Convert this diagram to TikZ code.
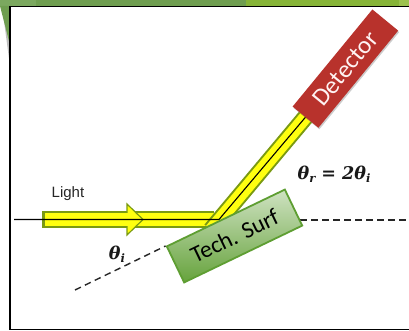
\documentclass[tikz,border=0pt]{standalone}
\usepackage{fontspec}
\setmainfont{Carlito}
\newfontfamily\arialf{Liberation Sans}
\newfontfamily\thetaf{DejaVu Serif}
\usetikzlibrary{shadows,backgrounds}
\definecolor{barA}{HTML}{7BA85F}
\definecolor{barB}{HTML}{6F9E50}
\definecolor{barC}{HTML}{86B437}
\definecolor{barD}{HTML}{9CC24E}
\definecolor{beamEdge}{HTML}{7A9A12}
\definecolor{beamFill}{HTML}{FFFF10}
\definecolor{techEdge}{HTML}{5E9E32}
\definecolor{detRed}{HTML}{B8322C}
\newcommand{\lowsub}[1]{\raisebox{-3pt}{\fontsize{11.5}{11.5}\selectfont #1}}
\tikzset{
  x=1pt,y=-1pt,
  frameline/.style={draw=black,line width=1.6pt},
  beamouter/.style={draw=beamEdge,line width=17pt},
  beaminner/.style={draw=beamFill,line width=13pt},
  ray/.style={draw=black,line width=1.1pt,line join=round},
  dashline/.style={draw=black!85,line width=1.4pt,dash pattern=on 6.5pt off 4.5pt},
  detbox/.style={fill=detRed,minimum width=125.7pt,minimum height=33.4pt,inner sep=0pt,rotate=50.6,
    drop shadow={shadow xshift=1pt,shadow yshift=-1.5pt,opacity=.2,fill=black},
    text=white!95!red,font=\fontsize{25}{25}\selectfont},
  techbox/.style={draw=techEdge,line width=1.8pt,top color=techEdge!30!white,bottom color=techEdge!95!white,
    minimum width=131pt,minimum height=40pt,inner sep=0pt,rotate=25.7,
    text=black,font=\fontsize{23.5}{23.5}\selectfont},
  mathlabel/.style={inner sep=0pt,text=black!90,font=\thetaf\bfseries\itshape\fontsize{17.5}{17.5}\selectfont},
  textlabel/.style={inner sep=0pt,text=black!85,font=\arialf\fontsize{15}{15}\selectfont},
}
\begin{document}
\begin{tikzpicture}
\clip (0,0) rectangle (409,331);
% coordinates
\coordinate (lineStart) at (14,219.5);
\coordinate (beamStart) at (42,219.5);
\coordinate (beamEnd) at (214,219.5);
\coordinate (bend) at (219,219.5);
\coordinate (diagFoot) at (211,230);
\coordinate (dashA) at (75,290);
\coordinate (dashB) at (300,220);
\coordinate (dashC) at (409,220);
% boxes
\node[detbox] (det) at (345.4,68.6) {Detector};
\node[techbox] (tech) at (234.5,236) {Tech. Surf};
% labels
\node[textlabel] (light) at (68,194) {Light};
\node[mathlabel] (thi) at (117,254) {θ\lowsub{i}};
\node[mathlabel] (thr) at (334,174) {θ\lowsub{r} = 2θ\lowsub{i}};
\begin{pgfonlayer}{background}
\fill[white] (0,0) rectangle (409,331);
% slide background
\fill[barA] (0,0) rectangle (36,7);
\fill[barB] (36,0) rectangle (246,7);
\fill[barC] (246,0) rectangle (399,7);
\fill[barD] (399,0) rectangle (409,7);
\fill[black!25] (2,6) -- (10,66) -- (10,30) -- cycle;
\fill[barB] (0,6) -- (10,45) -- (10,6) -- cycle;
\draw[frameline] (10,6.5) rectangle (416,329.5);
% beams
\draw[beamouter] (beamStart) -- (beamEnd);
\draw[beaminner] ([xshift=3pt]beamStart) -- (beamEnd);
\fill[beamFill,draw=beamEdge,line width=1.2pt,line join=miter]
  (127,212.5) -- (127,204) -- (143,219.5) -- (127,235) -- (127,226.5) -- cycle;
\fill[beamFill] (120,213.2) rectangle (128,225.8);
\draw[beamouter] (diagFoot) -- (det.west);
\draw[beaminner] (diagFoot) -- (det.west);
\draw[ray] (lineStart) -- (bend) -- (det.west);
% dashed lines
\draw[dashline] (dashB) -- (dashC);
\draw[dashline] (dashA) -- (tech.north west);
\end{pgfonlayer}
\end{tikzpicture}
\end{document}
